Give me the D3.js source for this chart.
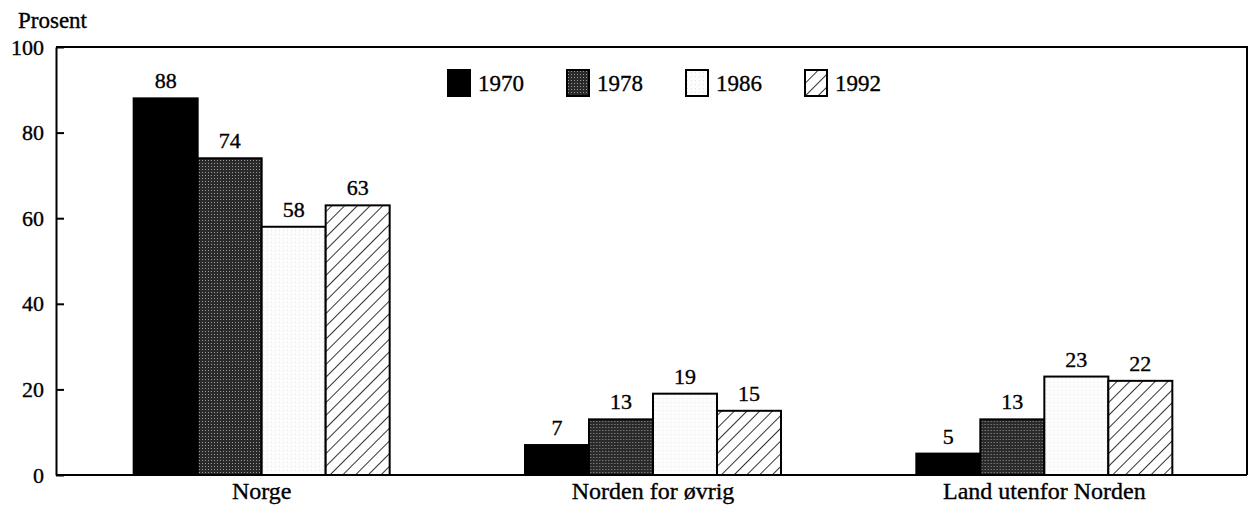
<!DOCTYPE html>
<html>
<head>
<meta charset="utf-8">
<script src="https://cdn.jsdelivr.net/npm/d3@7"></script>
<style>
  body { margin: 0; background: #fff; }
</style>
</head>
<body>
<svg id="chart" width="1248" height="507" font-family="Liberation Serif"></svg>
<script>
// data
const categories = ["Norge", "Norden for øvrig", "Land utenfor Norden"];
const years = ["1970", "1978", "1986", "1992"];
const v1970 = [88, 7, 5];
const v1978 = [74, 13, 13];
const v1986 = [58, 19, 23];
const v1992 = [63, 15, 22];
const yTicks = [0, 20, 40, 60, 80, 100];

const series = [v1970, v1978, v1986, v1992];

const svg = d3.select("#chart");
const plotLeft = 56, plotRight = 1247, plotTop = 47, plotBottom = 475;

// fills
const defs = svg.append("defs");
const dots = defs.append("pattern").attr("id", "dots")
    .attr("patternUnits", "userSpaceOnUse").attr("width", 3).attr("height", 3);
dots.append("rect").attr("width", 3).attr("height", 3).attr("fill", "#2a2a2a");
dots.append("rect").attr("x", 1).attr("y", 1).attr("width", 1).attr("height", 1).attr("fill", "#9a9a9a");

const light = defs.append("pattern").attr("id", "light")
    .attr("patternUnits", "userSpaceOnUse").attr("width", 4).attr("height", 4);
light.append("rect").attr("width", 4).attr("height", 4).attr("fill", "#fdfdfd");
light.append("rect").attr("x", 1).attr("y", 2).attr("width", 1).attr("height", 1).attr("fill", "#e4e4e4");

const hatch = defs.append("pattern").attr("id", "hatch")
    .attr("patternUnits", "userSpaceOnUse").attr("width", 9).attr("height", 9)
    .attr("patternTransform", "rotate(45)");
hatch.append("rect").attr("width", 9).attr("height", 9).attr("fill", "#fff");
hatch.append("line").attr("x1", 0).attr("y1", 0).attr("x2", 0).attr("y2", 9)
    .attr("stroke", "#000").attr("stroke-width", 1.6);

const fills = ["#000", "url(#dots)", "url(#light)", "url(#hatch)"];

const x0 = d3.scaleBand().domain(categories).range([66, 1240]);
const x1 = d3.scaleBand().domain(years)
    .range([x0.bandwidth() / 2 - 128, x0.bandwidth() / 2 + 128]);
const y = d3.scaleLinear().domain([0, 100]).range([plotBottom, plotTop]);

// frame (top and right)
svg.append("path")
    .attr("d", `M${plotLeft},${plotTop}H${plotRight}V${plotBottom}`)
    .attr("fill", "none").attr("stroke", "#000").attr("stroke-width", 2);

// bars
const groups = svg.selectAll("g.grp").data(categories).join("g")
    .attr("class", "grp")
    .attr("transform", d => `translate(${x0(d)},0)`);

groups.each(function (cat, ci) {
  const g = d3.select(this);
  years.forEach((yr, si) => {
    const v = series[si][ci];
    g.append("rect")
        .attr("x", x1(yr)).attr("y", y(v))
        .attr("width", x1.bandwidth()).attr("height", y(0) - y(v))
        .attr("fill", fills[si])
        .attr("stroke", "#000").attr("stroke-width", 2);
    g.append("text")
        .attr("x", x1(yr) + x1.bandwidth() / 2).attr("y", y(v) - 10)
        .attr("text-anchor", "middle").attr("font-size", 22)
        .text(v);
  });
});

// y axis
const yAxis = svg.append("g").attr("transform", `translate(${plotLeft},0)`)
    .call(d3.axisLeft(y).tickValues(yTicks).tickSizeInner(-8).tickSizeOuter(0).tickPadding(12));
yAxis.attr("font-family", "Liberation Serif").attr("font-size", 22);
yAxis.select(".domain").attr("stroke-width", 2);
yAxis.selectAll(".tick line").attr("stroke-width", 2);

// x axis line
svg.append("line")
    .attr("x1", plotLeft).attr("x2", plotRight).attr("y1", plotBottom).attr("y2", plotBottom)
    .attr("stroke", "#000").attr("stroke-width", 2);

svg.selectAll("text.cat").data(categories).join("text")
    .attr("class", "cat")
    .attr("x", d => x0(d) + x0.bandwidth() / 2).attr("y", 499)
    .attr("text-anchor", "middle").attr("font-size", 24)
    .text(d => d);

svg.append("text").attr("x", 18).attr("y", 28)
    .attr("font-size", 23).text("Prosent");

// legend
const legend = svg.selectAll("g.leg").data(years).join("g")
    .attr("class", "leg")
    .attr("transform", (d, i) => `translate(${448 + i * 119},70)`);
legend.append("rect")
    .attr("width", 22).attr("height", 26)
    .attr("fill", (d, i) => fills[i])
    .attr("stroke", "#000").attr("stroke-width", 2);
legend.append("text")
    .attr("x", 30).attr("y", 21).attr("font-size", 23)
    .text(d => d);

// serif type everywhere, slightly heavy like the printed original
svg.selectAll("text")
    .attr("font-family", "Liberation Serif")
    .attr("fill", "#000")
    .attr("stroke", "#000").attr("stroke-width", 0.35);
</script>
</body>
</html>
